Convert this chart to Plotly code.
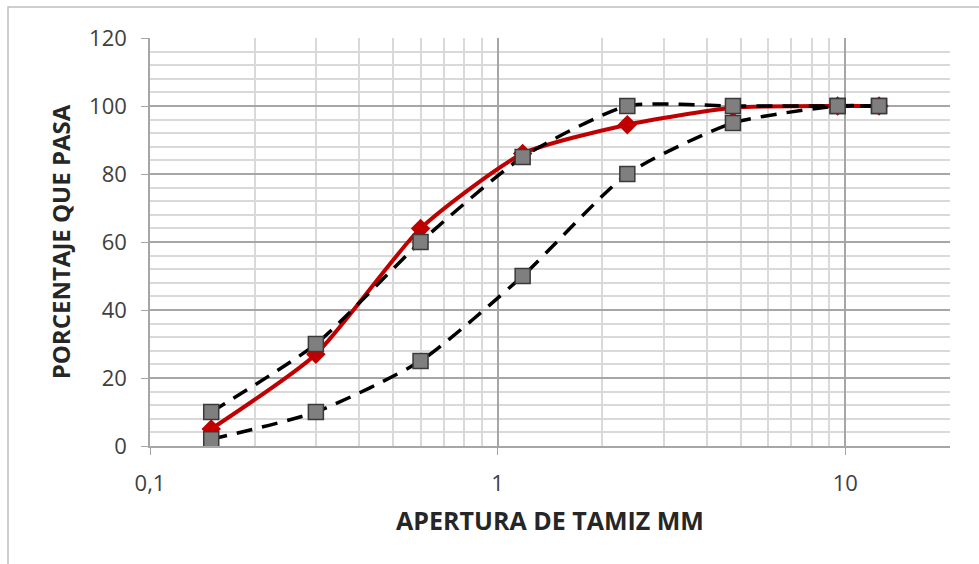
import plotly.graph_objects as go
import numpy as np

aperture_mm = [0.15, 0.3, 0.6, 1.18, 2.36, 4.75, 9.5, 12.5]
muestra = [5, 27, 64, 86, 94.5, 99.5, 100, 100]
limite_superior = [10, 30, 60, 85, 100, 100, 100, 100]
limite_inferior = [2, 10, 25, 50, 80, 95, 100, 100]

x_tickvals = [0.1, 1, 10]
x_ticktext = ["0,1", "1", "10"]
x_minor = [m * d for d in (0.1, 1, 10) for m in range(2, 10)] + [20]

FONT = "'Open Sans', Lato, sans-serif"

fig = go.Figure()

fig.add_trace(go.Scatter(
    x=aperture_mm, y=muestra, mode="lines+markers",
    line=dict(color="#C00000", width=4, shape="spline", smoothing=0.6),
    marker=dict(symbol="diamond", size=15, color="#C00000"),
    name="Muestra", showlegend=False))

for ys in (limite_superior, limite_inferior):
    fig.add_trace(go.Scatter(
        x=aperture_mm, y=ys, mode="lines+markers",
        line=dict(color="black", width=3.5, dash="16px,10px", shape="spline", smoothing=0.6),
        marker=dict(symbol="square", size=15, color="#7F7F7F",
                    line=dict(color="#3A3A3A", width=1.5)),
        showlegend=False))

fig.update_layout(
    width=979, height=564,
    margin=dict(l=150, r=29, t=38, b=118),
    paper_bgcolor="white", plot_bgcolor="white",
    separators=",.",
    font=dict(family=FONT, size=22, color="#404040"),
    xaxis=dict(
        type="log", range=[-1, np.log10(20)],
        tickmode="array", tickvals=x_tickvals, ticktext=x_ticktext,
        showgrid=True, gridcolor="#A6A6A6", gridwidth=1.5,
        ticks="outside", ticklen=7, tickcolor="#A6A6A6",
        showline=True, linecolor="#A6A6A6", linewidth=1.5,
        zeroline=False, ticklabelstandoff=10,
        minor=dict(tickmode="array", tickvals=x_minor, showgrid=True,
                   gridcolor="#D9D9D9", gridwidth=1.5, ticks=""),
        title=dict(text="<b>APERTURA DE TAMIZ MM</b>", standoff=16,
                   font=dict(family=FONT, size=25, color="#262626")),
        tickfont=dict(size=22, color="#404040"),
    ),
    yaxis=dict(
        range=[0, 120], dtick=20, tick0=0,
        showgrid=True, gridcolor="#A6A6A6", gridwidth=1.5,
        ticks="outside", ticklen=7, tickcolor="#A6A6A6",
        showline=True, linecolor="#A6A6A6", linewidth=1.5,
        zeroline=False, ticklabelstandoff=10,
        minor=dict(dtick=4, showgrid=True, gridcolor="#D9D9D9", gridwidth=1.5, ticks=""),
        title=dict(text="<b>PORCENTAJE QUE PASA</b>", standoff=12,
                   font=dict(family=FONT, size=24, color="#262626")),
        tickfont=dict(size=22, color="#404040"),
    ),
)

fig.add_shape(type="rect", xref="paper", yref="paper",
              x0=-0.1775, x1=1.2, y0=-0.5, y1=1.076,
              line=dict(color="#BFBFBF", width=1.5), layer="below")

fig.write_html("out.html")
